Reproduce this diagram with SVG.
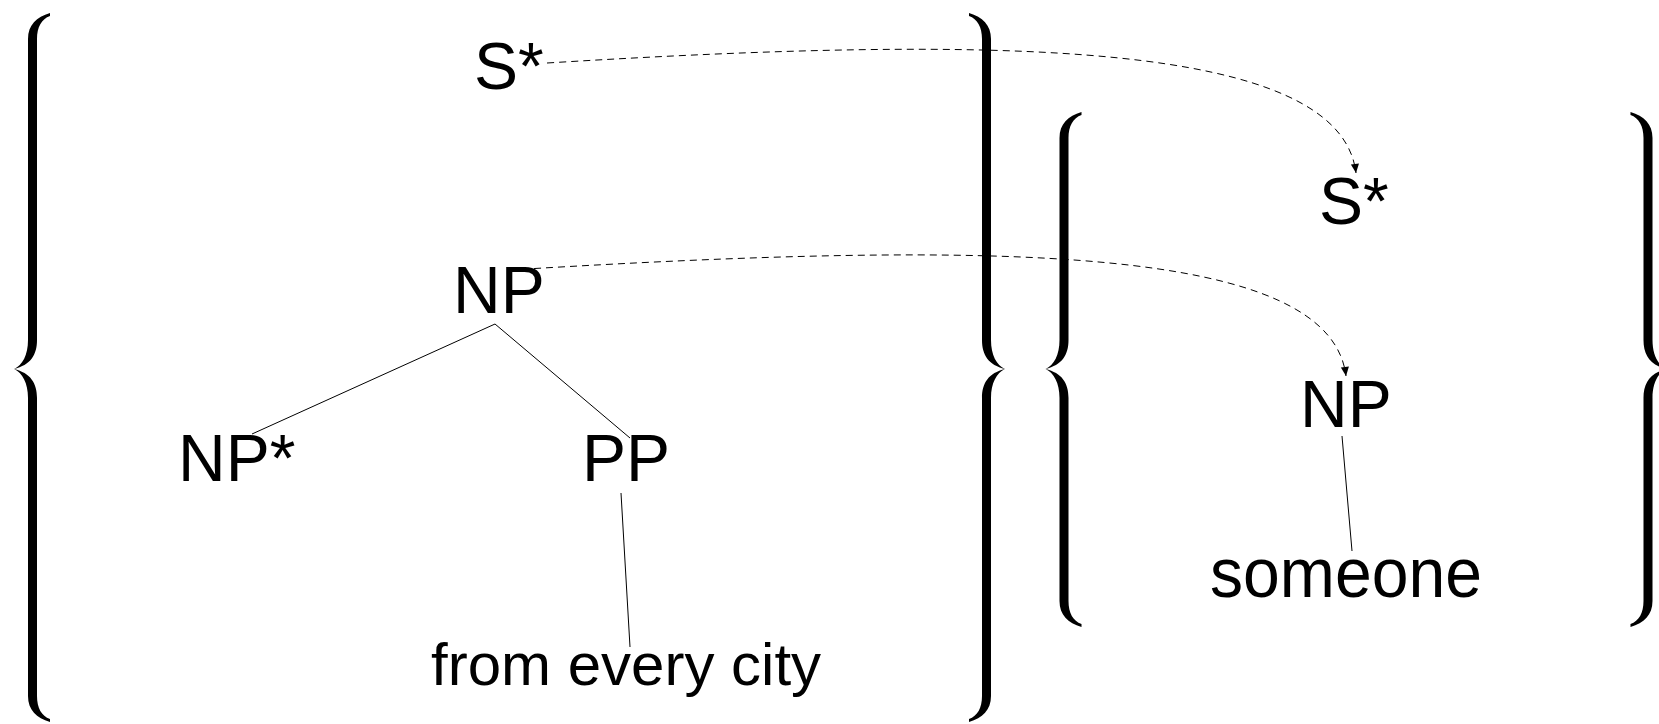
<svg xmlns="http://www.w3.org/2000/svg" width="1659" height="724" viewBox="0 0 1659 724">
  <style>
    .lbl { font-family: "Liberation Sans", Arial, sans-serif; fill: #000; }
    .node { font-size: 66px; }
    .word { font-size: 60px; }
    .edge { stroke: #000; stroke-width: 1; fill: none; }
    .link { stroke: #000; stroke-width: 1; fill: none; stroke-dasharray: 7 5; }
    .brace { fill: #000; stroke: none; }
  </style>
  <defs>
    <!-- left-facing curly brace outlines, centred on the tip; mirrored for the right side -->
    <path id="braceBig" d="M17.5,-356 C4,-352 -4.5,-344 -4.5,-330 L-4.5,-29 C-4.5,-14 -10,-4 -18.5,0 C-10,4 -4.5,14 -4.5,29 L-4.5,327 C-4.5,341 4,349 17.5,353 L17.5,350 C9,347 4.5,339 4.5,327 L4.5,29 C4.5,14 -2,4 -18.5,0 C-2,-4 4.5,-14 4.5,-29 L4.5,-330 C4.5,-342 9,-350 17.5,-353 Z"/>
    <path id="braceSmall" d="M17.5,-257 C4,-253 -4.5,-245 -4.5,-231 L-4.5,-29 C-4.5,-14 -10,-4 -18.5,0 C-10,4 -4.5,14 -4.5,29 L-4.5,232 C-4.5,246 4,254 17.5,258 L17.5,255 C9,252 4.5,244 4.5,232 L4.5,29 C4.5,14 -2,4 -18.5,0 C-2,-4 4.5,-14 4.5,-29 L4.5,-231 C4.5,-243 9,-251 17.5,-254 Z"/>
    <marker id="arrow" viewBox="0 0 10 10" refX="10" refY="4.5" markerWidth="10" markerHeight="9" markerUnits="userSpaceOnUse" orient="auto">
      <path d="M0,0 L10,4.5 L0,9 Z" fill="#000"/>
    </marker>
  </defs>

  <!-- set braces -->
  <g id="braces" class="brace">
    <use href="#braceBig" transform="translate(32.5,369)"/>
    <use href="#braceBig" transform="translate(986.5,369) scale(-1,1)"/>
    <use href="#braceSmall" transform="translate(1064,369)"/>
    <use href="#braceSmall" transform="translate(1648,369) scale(-1,1)"/>
  </g>

  <!-- tree edges and dashed links -->
  <g id="connectors">
    <line class="edge" x1="495" y1="324" x2="252" y2="434"/>
    <line class="edge" x1="495" y1="324" x2="630" y2="438"/>
    <line class="edge" x1="621" y1="493" x2="630" y2="647" stroke-width="1.3"/>
    <line class="edge" x1="1342" y1="436" x2="1352" y2="551"/>
    <path class="link" d="M547,63 C1000,35 1340,40 1356,173" marker-end="url(#arrow)"/>
    <path class="link" d="M510,270 C1000,240 1330,245 1346,376" marker-end="url(#arrow)"/>
  </g>

  <!-- left tree -->
  <g id="s-star-1"><text class="lbl node" x="474" y="89">S*</text></g>
  <g id="np-1"><text class="lbl node" x="453" y="313">NP</text></g>
  <g id="np-star"><text class="lbl node" x="178" y="481">NP*</text></g>
  <g id="pp"><text class="lbl node" x="582" y="481">PP</text></g>
  <g id="from-every-city"><text class="lbl word" x="431" y="685">from every city</text></g>

  <!-- right tree -->
  <g id="s-star-2"><text class="lbl node" x="1319" y="224">S*</text></g>
  <g id="np-2"><text class="lbl node" x="1300" y="427">NP</text></g>
  <g id="someone"><text class="lbl" x="1210" y="597" font-size="70" textLength="272" lengthAdjust="spacingAndGlyphs">someone</text></g>
</svg>
